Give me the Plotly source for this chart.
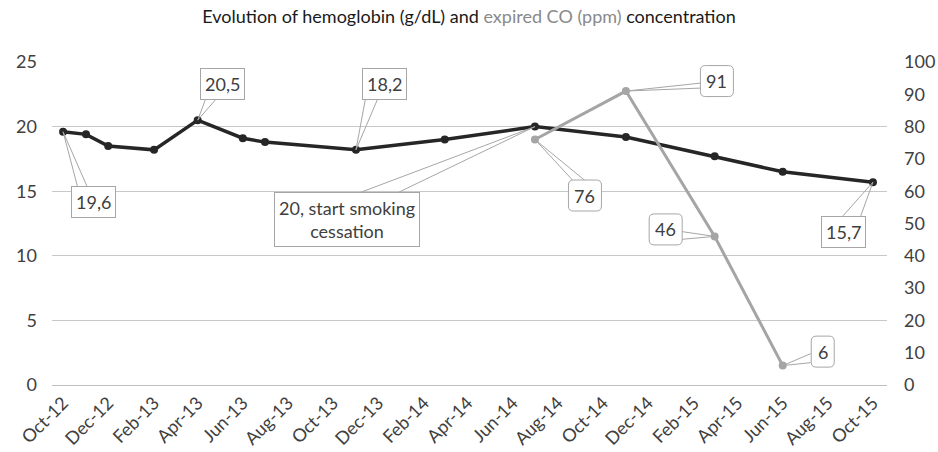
import plotly.graph_objects as go

# ---- data ----
hb_dates = ["2012-10-01", "2012-11-01", "2012-12-01", "2013-02-01", "2013-04-01",
            "2013-06-01", "2013-07-01", "2013-11-01", "2014-03-01", "2014-07-01",
            "2014-11-01", "2015-03-01", "2015-06-01", "2015-10-01"]
hb_values = [19.6, 19.4, 18.5, 18.2, 20.5, 19.1, 18.8, 18.2, 19.0, 20.0, 19.2, 17.7, 16.5, 15.7]

co_dates = ["2014-07-01", "2014-11-01", "2015-03-01", "2015-06-01"]
co_values = [76, 91, 46, 6]

hb_label_idx = [0, 4, 7, 9, 13]
hb_label_text = ["19,6", "20,5", "18,2", "20, start smoking<br>cessation", "15,7"]
co_label_text = ["76", "91", "46", "6"]

title_main = "Evolution of hemoglobin (g/dL) and "
title_co = "expired CO (ppm)"
title_end = " concentration"

# ---- layout constants (pixel offsets of callouts: box centre, wedge bases) ----
hb_callout = [
    dict(box=(30, 70), w=[(15, 57), (25, 57)]),
    dict(box=(25, -36), w=[(9, -24), (21, -24)]),
    dict(box=(29, -66), w=[(10, -54), (23, -54)]),
    dict(box=(-188, 93), w=[(-175, 66), (-137, 66)]),
    dict(box=(-29, 50), w=[(-32, 36), (-13, 36)]),
]
co_callout = [
    dict(box=(50, 56), w=[(38, 41), (50, 41)]),
    dict(box=(91, -10), w=[(75, -8), (75, -3)]),
    dict(box=(-49, -7), w=[(-34, -5), (-34, 3)]),
    dict(box=(40, -14), w=[(28, -12), (28, -3)]),
]

FONT = "Lato"
DARK = "#262626"
TXT = "#404040"
GRAY_LINE = "#a5a5a5"
GRAY_TXT = "#8a8a8a"
BORDER = "#a6a6a6"

fig = go.Figure()
fig.add_trace(go.Scatter(x=hb_dates, y=hb_values, mode="lines+markers",
                         line=dict(color=DARK, width=3.5),
                         marker=dict(color=DARK, size=8), yaxis="y",
                         showlegend=False, hoverinfo="x+y"))
fig.add_trace(go.Scatter(x=co_dates, y=co_values, mode="lines+markers",
                         line=dict(color=GRAY_LINE, width=3),
                         marker=dict(color=GRAY_LINE, size=8), yaxis="y2",
                         showlegend=False, hoverinfo="x+y"))

shapes = []
annotations = []


def wedge_lines(xv, yv, yref, cfg):
    for (dx, dy) in cfg["w"]:
        shapes.append(dict(type="line", xref="x", yref=yref,
                           xsizemode="pixel", ysizemode="pixel",
                           xanchor=xv, yanchor=yv,
                           x0=0, y0=0, x1=dx, y1=-dy,
                           line=dict(color=BORDER, width=1), layer="above"))


def add_callout(xv, yv, yref, text, cfg):
    wedge_lines(xv, yv, yref, cfg)
    bx, by = cfg["box"]
    annotations.append(dict(x=xv, y=yv, xref="x", yref=yref, text=text,
                            showarrow=False, xshift=bx, yshift=-by,
                            xanchor="center", yanchor="middle",
                            font=dict(family=FONT, size=18, color=TXT),
                            bgcolor="white", bordercolor=BORDER, borderwidth=1,
                            borderpad=4))


def rounded_path(cx, cy, w, h, r):
    l, rt = cx - w / 2, cx + w / 2
    b, t = cy - h / 2, cy + h / 2
    return (f"M {l + r},{t} L {rt - r},{t} Q {rt},{t} {rt},{t - r} "
            f"L {rt},{b + r} Q {rt},{b} {rt - r},{b} L {l + r},{b} "
            f"Q {l},{b} {l},{b + r} L {l},{t - r} Q {l},{t} {l + r},{t} Z")


def add_round_callout(xv, yv, yref, text, cfg):
    wedge_lines(xv, yv, yref, cfg)
    bx, by = cfg["box"]
    w = 10 * len(text) + 13
    shapes.append(dict(type="path", xref="x", yref=yref,
                       xsizemode="pixel", ysizemode="pixel",
                       xanchor=xv, yanchor=yv,
                       path=rounded_path(bx, -by, w, 31, 5),
                       fillcolor="white", line=dict(color=BORDER, width=1),
                       layer="above"))
    annotations.append(dict(x=xv, y=yv, xref="x", yref=yref, text=text,
                            showarrow=False, xshift=bx, yshift=-by,
                            xanchor="center", yanchor="middle",
                            font=dict(family=FONT, size=18, color=TXT)))


for i, t, cfg in zip(hb_label_idx, hb_label_text, hb_callout):
    add_callout(hb_dates[i], hb_values[i], "y", t, cfg)
for i, (t, cfg) in enumerate(zip(co_label_text, co_callout)):
    add_round_callout(co_dates[i], co_values[i], "y2", t, cfg)

fig.update_layout(
    width=938, height=452,
    margin=dict(l=52, r=51, t=62, b=67, autoexpand=False),
    paper_bgcolor="white", plot_bgcolor="white",
    font=dict(family=FONT, size=16, color=TXT),
    title=dict(text=title_main + f"<span style='color:{GRAY_TXT}'>{title_co}</span>" + title_end,
               x=0.5, xanchor="center", y=0.962, yanchor="middle",
               font=dict(family=FONT, size=18, color="#1a1a1a")),
    xaxis=dict(type="date", range=["2012-09-16", "2015-10-20"],
               tick0="2012-10-01", dtick="M2", tickformat="%b-%y",
               tickangle=-45, showgrid=False, zeroline=False, showline=False,
               ticks="", ticklabelstandoff=3,
               tickfont=dict(size=18, color=TXT)),
    yaxis=dict(range=[0, 25], dtick=5, showgrid=True, gridcolor="#c8c8c8",
               gridwidth=1, zeroline=True, zerolinecolor="#c0c0c0", zerolinewidth=1,
               showline=False, ticks="", ticklabelstandoff=14,
               tickfont=dict(size=18, color=TXT)),
    yaxis2=dict(range=[0, 100], dtick=10, overlaying="y", side="right",
                showgrid=False, zeroline=False, showline=False, ticks="",
                ticklabelstandoff=16, tickfont=dict(size=18, color=TXT)),
    shapes=shapes,
    annotations=annotations,
)

fig.write_html("out.html", post_script="document.body.style.margin='0';",
               config={"displayModeBar": False})
